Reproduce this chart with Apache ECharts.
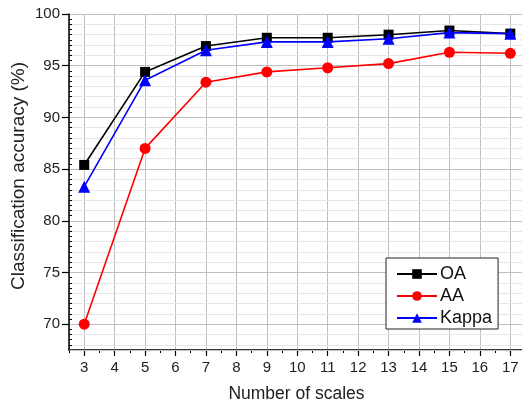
<!DOCTYPE html>
<html><head><meta charset="utf-8">
<script src="https://cdn.jsdelivr.net/npm/echarts@6/dist/echarts.min.js"></script>
<style>html,body{margin:0;padding:0;background:#fff}#c{width:522px;height:404px}</style>
</head><body><div id="c"></div>
<script>
var scales = [3, 5, 7, 9, 11, 13, 15, 17];
var oa = [85.4, 94.4, 96.9, 97.7, 97.7, 98.0, 98.4, 98.1];
var aa = [70.0, 87.0, 93.4, 94.4, 94.8, 95.2, 96.3, 96.2];
var kappa = [83.3, 93.6, 96.5, 97.3, 97.3, 97.6, 98.2, 98.1];
var seriesNames = ['OA', 'AA', 'Kappa'];
var xName = 'Number of scales';
var yName = 'Classification accuracy (%)';

function pairs(v){ return scales.map(function(s,i){ return [s, v[i]]; }); }
var font = 'Liberation Sans, Arial, sans-serif';
var chart = echarts.init(document.getElementById('c'));
var xMin = 2.5, xMax = 17.45, yMin = 67.5, yMax = 100;
chart.setOption({
  animation: false,
  grid: {left: 69, right: -2, top: 14, bottom: 54, containLabel: false, outerBoundsMode: 'none'},
  graphic: [{
    type: 'text', x: 19, y: 176, rotation: Math.PI / 2,
    style: {text: yName, fontFamily: font, fontSize: 19, fill: '#222', align: 'center', verticalAlign: 'middle'}
  }],
  xAxis: [{
    type: 'value', min: xMin, max: xMax, splitNumber: 15,
    name: xName, nameLocation: 'middle', nameGap: 35,
    nameTextStyle: {fontFamily: font, fontSize: 17.5, color: '#222'},
    axisLine: {show: true, onZero: false, lineStyle: {color: '#000', width: 1.5}},
    axisTick: {show: true, length: 6, lineStyle: {color: '#000', width: 1.2}},
    axisLabel: {fontFamily: font, fontSize: 15, color: '#222', margin: 10, showMinLabel: false, showMaxLabel: false},
    splitLine: {show: true, lineStyle: {color: '#bfbfbf', width: 1}}
  }, {
    type: 'value', min: xMin, max: xMax, interval: 0.5, position: 'bottom',
    axisLine: {show: false, onZero: false},
    axisTick: {show: true, length: 3, lineStyle: {color: '#000', width: 1}},
    axisLabel: {show: false}, splitLine: {show: false}
  }],
  yAxis: [{
    type: 'value', min: yMin, max: yMax, splitNumber: 6,
    axisLine: {show: true, onZero: false, lineStyle: {color: '#000', width: 1.5}},
    axisTick: {show: true, length: 7, lineStyle: {color: '#000', width: 1.2}},
    axisLabel: {fontFamily: font, fontSize: 15, color: '#222', margin: 9, showMinLabel: false},
    splitLine: {show: true, lineStyle: {color: '#bfbfbf', width: 1}},
    z: 3
  }, {
    type: 'value', min: yMin, max: yMax, interval: 0.5, position: 'left',
    axisLine: {show: false, onZero: false},
    axisTick: {show: true, inside: true, length: 3, lineStyle: {color: '#000', width: 1}},
    axisLabel: {show: false},
    splitLine: {show: true, lineStyle: {color: ['rgba(0,0,0,0)', '#e6e6e6'], width: 1}},
    z: 1
  }],
  legend: {
    orient: 'vertical', left: 386, top: 258,
    backgroundColor: '#fff', borderColor: '#222', borderWidth: 1,
    padding: [7, 6, 2, 10], itemWidth: 40, itemHeight: 12, itemGap: 4,
    textStyle: {fontFamily: font, fontSize: 18, lineHeight: 18, color: '#111', padding: [0,0,0,-2]},
    data: seriesNames
  },
  series: [
    {name: seriesNames[0], type: 'line', data: pairs(oa), symbol: 'rect', symbolSize: 10,
     color: '#000', lineStyle: {width: 1.6, color: '#000'}, itemStyle: {color: '#000'}, z: 4},
    {name: seriesNames[1], type: 'line', data: pairs(aa), symbol: 'circle', symbolSize: 11,
     color: '#ff0000', lineStyle: {width: 1.6, color: '#ff0000'}, itemStyle: {color: '#ff0000'}, z: 4},
    {name: seriesNames[2], type: 'line', data: pairs(kappa), symbol: 'triangle', symbolSize: 12,
     color: '#0000ff', lineStyle: {width: 1.6, color: '#0000ff'}, itemStyle: {color: '#0000ff'}, z: 5}
  ]
});
</script></body></html>
